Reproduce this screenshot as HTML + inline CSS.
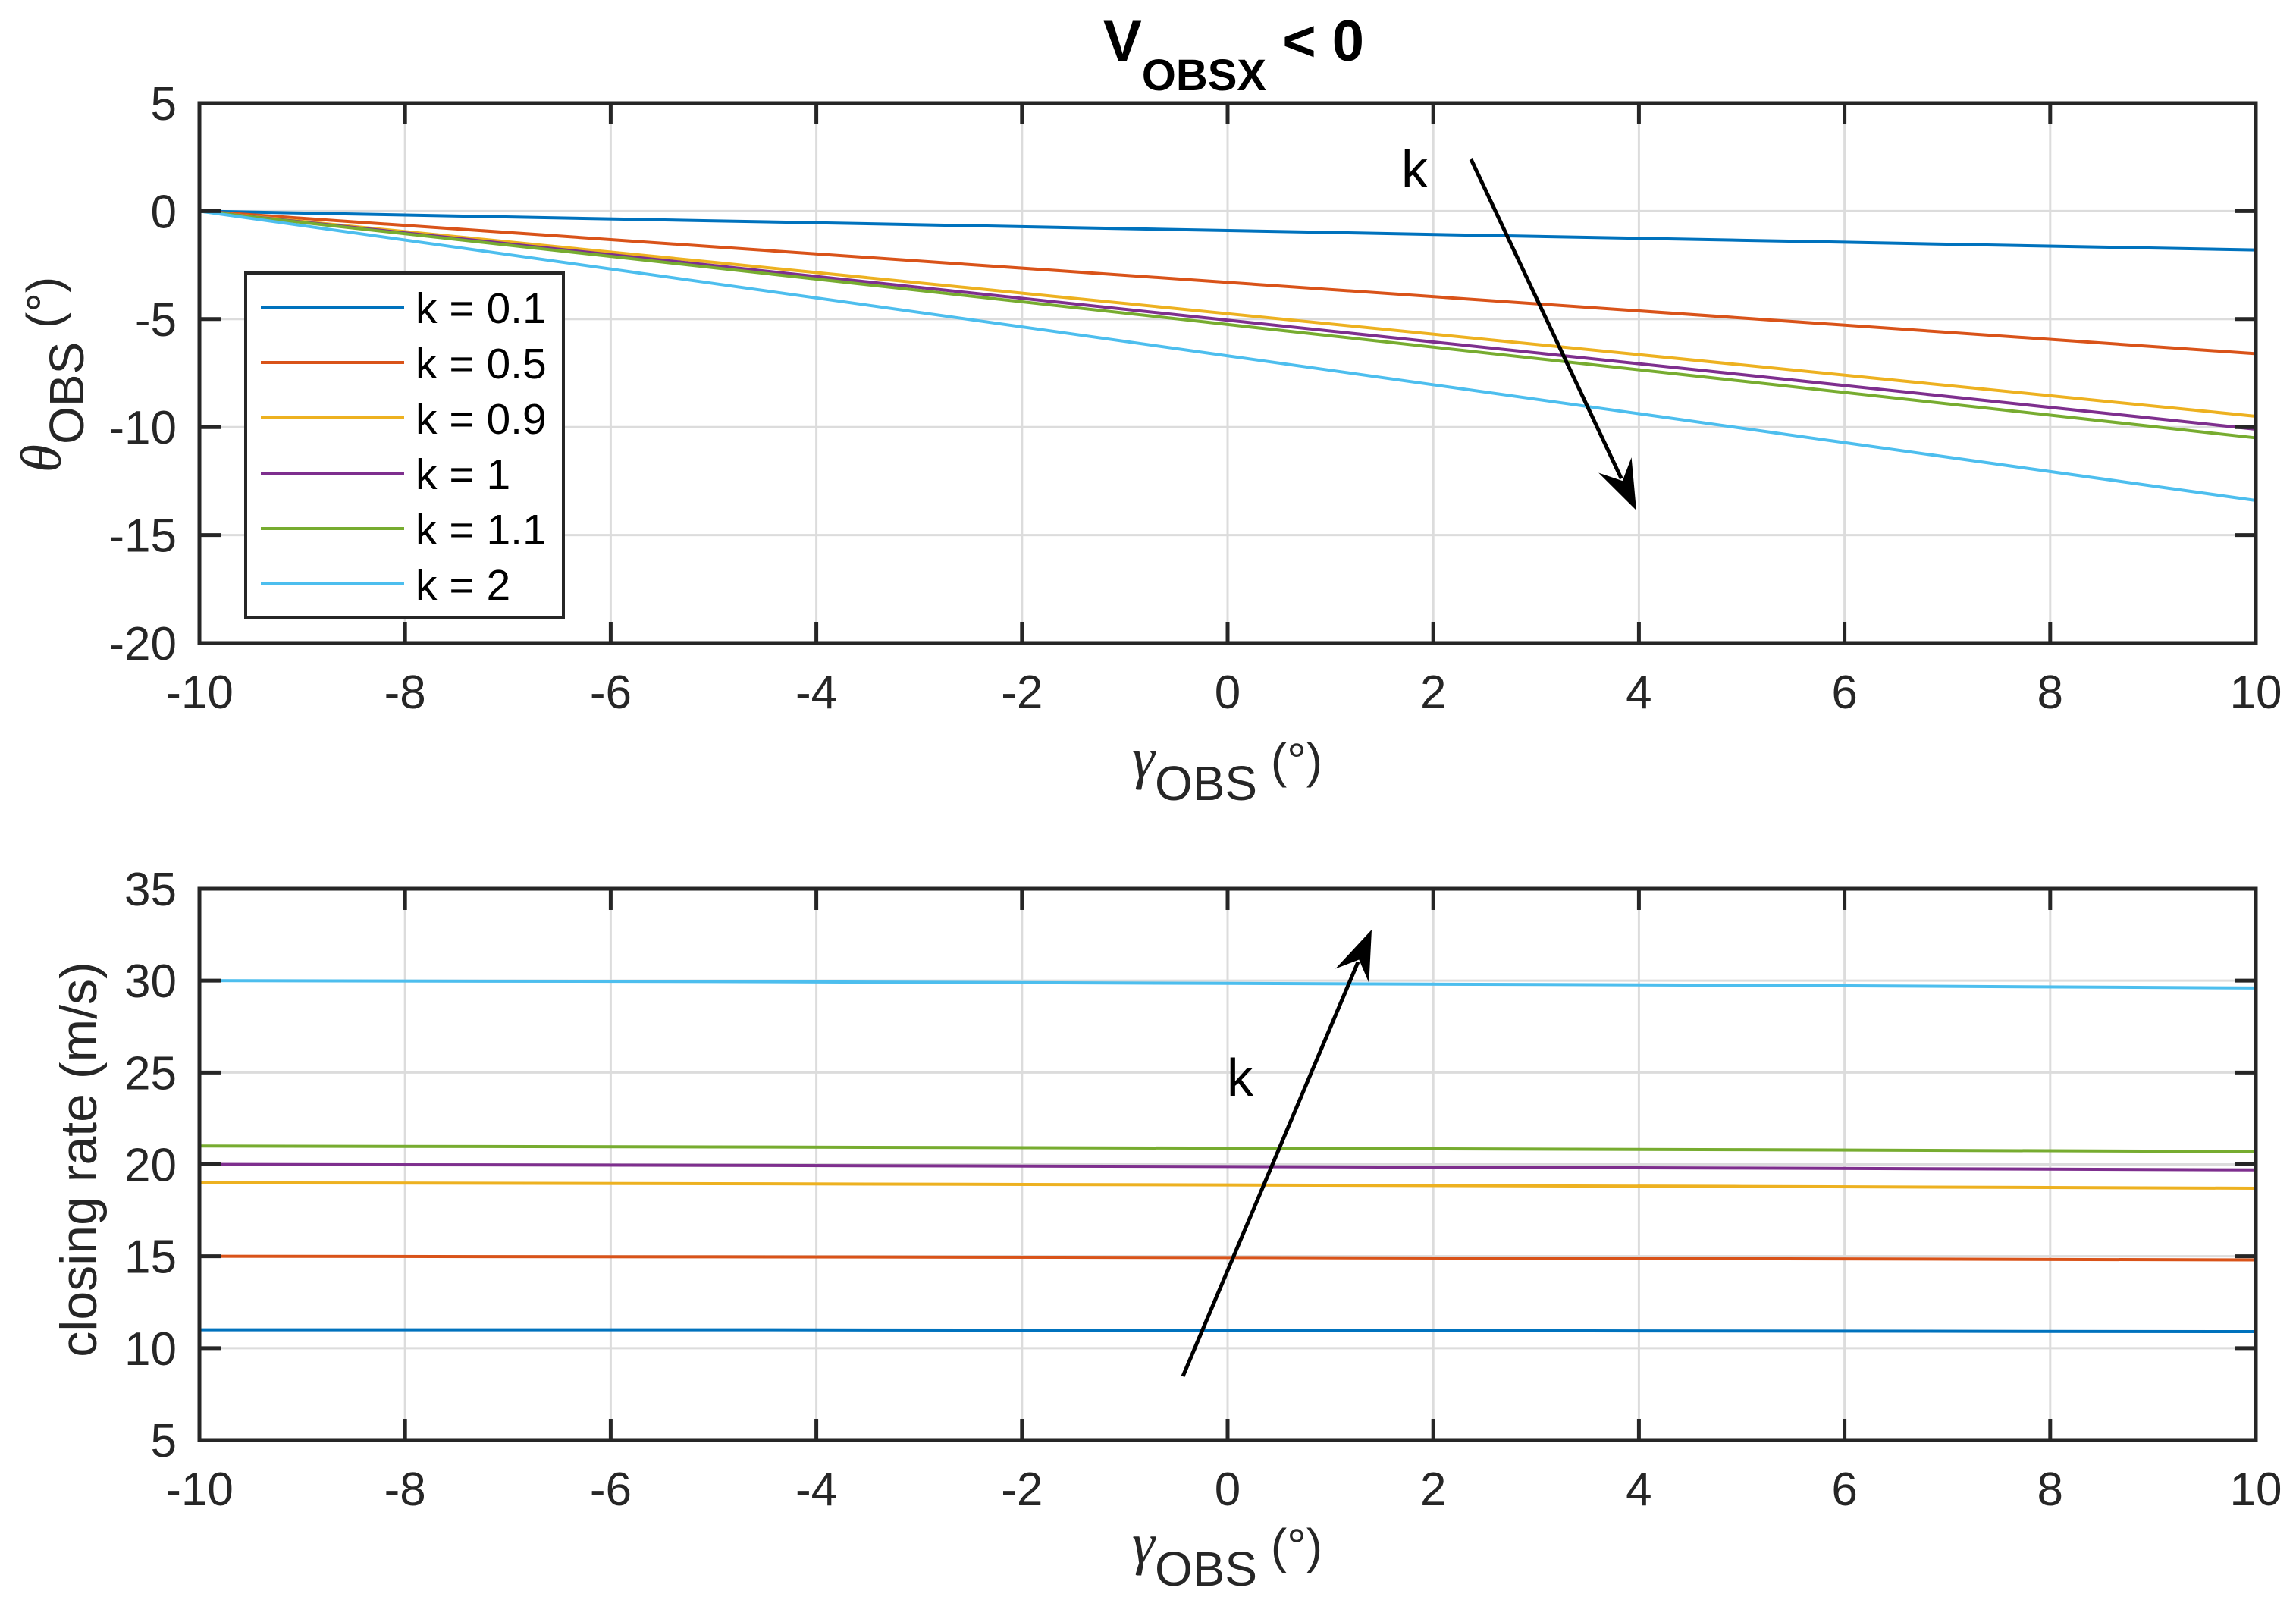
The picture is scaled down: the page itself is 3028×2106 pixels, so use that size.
<!DOCTYPE html>
<html><head><meta charset="utf-8"><style>
html,body{margin:0;padding:0;background:#fff}
svg{display:block;font-family:"Liberation Sans",Arial,sans-serif}
</style></head><body>
<svg id="chart" width="3028" height="2106" viewBox="0 0 3028 2106" xmlns="http://www.w3.org/2000/svg">
<rect width="3028" height="2106" fill="#fff"/>
<text x="1455" y="80" font-size="76" font-weight="bold" fill="#000">V<tspan font-size="58" dy="39">OBSX</tspan><tspan dy="-39"> &lt; 0</tspan></text>
<g id="g1"></g><g id="g2"></g>
</svg>
<script>
const xTicks=[-10,-8,-6,-4,-2,0,2,4,6,8,10];
const kLabels=["k = 0.1","k = 0.5","k = 0.9","k = 1","k = 1.1","k = 2"];
const colors=["#0072BD","#D95319","#EDB120","#7E2F8E","#77AC30","#4DBEEE"];
const xs=[-10,-5,0,5,10];
const theta01=[0,-0.45,-0.9,-1.35,-1.8];
const theta05=[0,-1.65,-3.3,-4.95,-6.6];
const theta09=[0,-2.37,-4.75,-7.12,-9.5];
const theta1=[0,-2.52,-5.05,-7.57,-10.1];
const theta11=[0,-2.62,-5.25,-7.87,-10.5];
const theta2=[0,-3.35,-6.7,-10.05,-13.4];
const rate01=[11,11,10.97,10.93,10.9];
const rate05=[15,14.97,14.93,14.87,14.8];
const rate09=[19,18.95,18.88,18.8,18.7];
const rate1=[20,19.95,19.88,19.8,19.7];
const rate11=[21,20.95,20.88,20.8,20.7];
const rate2=[30,29.95,29.85,29.75,29.6];
const yTicks1=[5,0,-5,-10,-15,-20];
const yTicks2=[35,30,25,20,15,10,5];
const NS="http://www.w3.org/2000/svg";
function mk(p,t,a){const e=document.createElementNS(NS,t);for(const k in a)e.setAttribute(k,a[k]);p.appendChild(e);return e;}
const L=263,R=2975;
function sx(v){return L+(v+10)/20*(R-L);}
function drawAxes(g,top,bot,ymin,ymax,yt){
  const sy=v=>bot-(v-ymin)/(ymax-ymin)*(bot-top);
  for(const t of xTicks){const l=mk(g,'line',{x1:sx(t),x2:sx(t),y1:top,y2:bot,stroke:'#dcdcdc','stroke-width':3});
  
  }
  for(const t of yt){const l=mk(g,'line',{x1:L,x2:R,y1:sy(t),y2:sy(t),stroke:'#dcdcdc','stroke-width':3});
  
  }
  return sy;
}
function frame(g,top,bot,yt,sy,name){
  const r=mk(g,'rect',{x:L,y:top,width:R-L,height:bot-top,fill:'none',stroke:'#262626','stroke-width':5});
  
  
  for(const t of xTicks){
    mk(g,'line',{x1:sx(t),x2:sx(t),y1:top,y2:top+28,stroke:'#262626','stroke-width':5});
    mk(g,'line',{x1:sx(t),x2:sx(t),y1:bot,y2:bot-28,stroke:'#262626','stroke-width':5});
    const tx=mk(g,'text',{x:sx(t),y:bot+86,'font-size':62,'text-anchor':'middle',fill:'#262626'});
    tx.textContent=String(t);
    
    
  }
  for(const t of yt){
    mk(g,'line',{x1:L,x2:L+28,y1:sy(t),y2:sy(t),stroke:'#262626','stroke-width':5});
    mk(g,'line',{x1:R,x2:R-28,y1:sy(t),y2:sy(t),stroke:'#262626','stroke-width':5});
    const tx=mk(g,'text',{x:233,y:sy(t)+22,'font-size':62,'text-anchor':'end',fill:'#262626'});
    tx.textContent=String(t);
    
    
  }
}
function series(g,arrs,sy){
  arrs.forEach((a,i)=>{
    const p=mk(g,'polyline',{points:a.map((v,j)=>sx(xs[j])+','+sy(v)).join(' '),fill:'none',stroke:colors[i],'stroke-width':4});
    
    
  });
}
function xlabel(g,y){
  const t=mk(g,'text',{x:1493,y:y,'font-size':64,fill:'#262626'});
  t.innerHTML='<tspan font-family="Liberation Serif" font-style="italic" font-size="76">γ</tspan><tspan dy="30">OBS</tspan><tspan dy="-30"> (°)</tspan>';
  
  
}
function arrow(g,x1,y1,x2,y2){
  const ang=Math.atan2(y2-y1,x2-x1),h=66,w=24;
  const bx=x2-h*Math.cos(ang),by=y2-h*Math.sin(ang);
  const ln=mk(g,'line',{x1:x1,y1:y1,x2:bx+0.3*h*Math.cos(ang),y2:by+0.3*h*Math.sin(ang),stroke:'#000','stroke-width':5});
  
  
  const a=mk(g,'polygon',{points:`${x2},${y2} ${bx+w*Math.sin(ang)},${by-w*Math.cos(ang)} ${bx+0.35*h*Math.cos(ang)},${by+0.35*h*Math.sin(ang)} ${bx-w*Math.sin(ang)},${by+w*Math.cos(ang)}`,fill:'#000'});
  
  
}
// top plot
const g1=document.getElementById('g1');
const sy1=drawAxes(g1,136,848,-20,5,yTicks1);
series(g1,[theta01,theta05,theta09,theta1,theta11,theta2],sy1);
frame(g1,136,848,yTicks1,sy1,'top');
xlabel(g1,1025);
let yl=mk(g1,'text',{transform:'translate(80,494) rotate(-90)','font-size':64,'text-anchor':'middle',fill:'#262626'});
yl.innerHTML='<tspan font-family="Liberation Serif" font-style="italic" font-size="76">θ</tspan><tspan dy="30">OBS</tspan><tspan dy="-30"> (°)</tspan>';


arrow(g1,1940,210,2158,673);
let kt=mk(g1,'text',{x:1848,y:247,'font-size':70,fill:'#000'});kt.textContent='k';


// legend
const lg=mk(g1,'g',{});


mk(lg,'rect',{x:324,y:360,width:419,height:454,fill:'#fff',stroke:'#262626','stroke-width':4});
kLabels.forEach((lab,i)=>{
  const y=405+i*73;
  const e=mk(lg,'g',{});
  
  
  mk(e,'line',{x1:344,x2:533,y1:y,y2:y,stroke:colors[i],'stroke-width':4});
  const t=mk(e,'text',{x:548,y:y+21,'font-size':57,fill:'#000'});t.textContent=lab;
});
// bottom plot
const g2=document.getElementById('g2');
const sy2=drawAxes(g2,1172,1899,5,35,yTicks2);
series(g2,[rate01,rate05,rate09,rate1,rate11,rate2],sy2);
frame(g2,1172,1899,yTicks2,sy2,'bottom');
xlabel(g2,2061);
let yl2=mk(g2,'text',{transform:'translate(127,1529) rotate(-90)','font-size':68,'text-anchor':'middle',fill:'#262626'});
yl2.textContent='closing rate (m/s)';


arrow(g2,1560,1815,1809,1226);
let kt2=mk(g2,'text',{x:1618,y:1445,'font-size':70,fill:'#000'});kt2.textContent='k';


</script>
</body></html>
